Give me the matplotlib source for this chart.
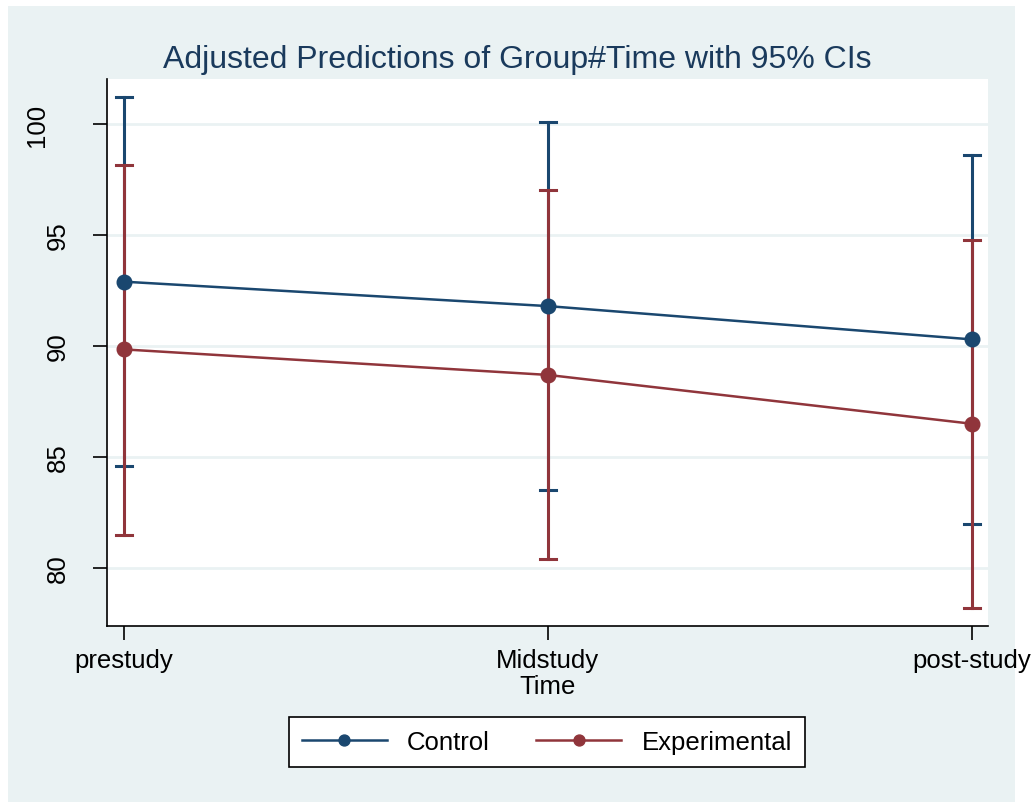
import matplotlib.pyplot as plt
from matplotlib.patches import Rectangle
from matplotlib.transforms import ScaledTranslation

plt.rcParams['font.family'] = ['Liberation Sans', 'DejaVu Sans']

times = ['prestudy', 'Midstudy', 'post-study']
groups = ['Control', 'Experimental']
colors = ['#1a476f', '#90353b']

# margins and 95% CI bounds
control = [92.9, 91.8, 90.3]
control_lo = [84.6, 83.5, 82.0]
control_hi = [101.2, 100.1, 98.6]
exper = [89.85, 88.7, 86.5]
exper_lo = [81.5, 80.4, 78.2]
exper_hi = [98.15, 97.05, 94.8]
yticks = [80, 85, 90, 95, 100]

W, H = 1035, 803
fig = plt.figure(figsize=(W / 100, H / 100), dpi=100, facecolor='white')
# stata style outer region
fig.patches.append(Rectangle((8 / W, 0), (1015 - 8) / W, (H - 7) / H,
                             transform=fig.transFigure, facecolor='#eaf2f3',
                             edgecolor='none', zorder=-10))

ax = fig.add_axes([107 / W, 1 - 627 / H, (988 - 107) / W, (627 - 80) / H])
ax.set_facecolor('white')

x = range(len(times))
series = [(control, control_lo, control_hi), (exper, exper_lo, exper_hi)]
for (m, lo, hi), c in zip(series, colors):
    for xi, a, b in zip(x, lo, hi):
        ax.plot([xi, xi], [a, b], color=c, lw=2.2, zorder=2)
        ax.plot([xi - 0.019, xi + 0.019], [a, a], color=c, lw=2.2, zorder=2)
        ax.plot([xi - 0.019, xi + 0.019], [b, b], color=c, lw=2.2, zorder=2)
for (m, lo, hi), c, g in zip(series, colors, groups):
    ax.plot(x, m, color=c, lw=1.8, marker='o', markersize=10.5, label=g, zorder=3)

ax.set_xlim(-0.04, 2.038)
ax.set_ylim(77.39, 102.03)
ax.set_yticks(yticks)
ax.set_xticks(list(x))
ax.set_xticklabels(times)
ax.tick_params(axis='y', labelrotation=90, labelsize=18.5, length=10, width=1.2, pad=17)
ax.tick_params(axis='x', labelsize=18.5, length=10, width=1.2, pad=6)
for lab, v in zip(ax.get_yticklabels(), yticks):
    lab.set_va('center')
    if v >= 100:
        lab.set_transform(lab.get_transform() + ScaledTranslation(-0.2, 0, fig.dpi_scale_trans))
ax.grid(axis='y', color='#eaf2f3', lw=2)
ax.set_axisbelow(True)
for s in ['top', 'right']:
    ax.spines[s].set_visible(False)
for s in ['left', 'bottom']:
    ax.spines[s].set_linewidth(1.2)
ax.set_xlabel('Time', fontsize=18.5, labelpad=1)

fig.text(517 / W, 1 - 60 / H, 'Adjusted Predictions of Group#Time with 95% CIs',
         ha='center', va='center', fontsize=23, color='#1a3a5c')

leg = fig.legend(loc='center', bbox_to_anchor=(547 / W, 1 - 743 / H), ncol=2,
                 fontsize=18.5, frameon=True, fancybox=False, edgecolor='black',
                 framealpha=1, handlelength=3.3, columnspacing=1.8, borderpad=0.5,
                 markerscale=0.75)
leg.get_frame().set_linewidth(1.2)

fig.savefig('out.png', dpi=100, facecolor=fig.get_facecolor())
